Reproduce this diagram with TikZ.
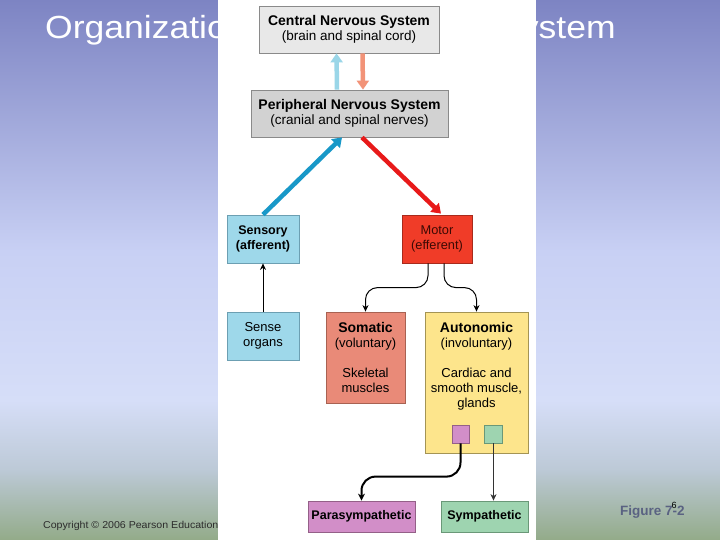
\documentclass[tikz,border=0pt]{standalone}
\usepackage{fontspec}
\setmainfont{Liberation Sans}
\newfontfamily\titlefont{Liberation Sans}[FakeStretch=1.11]
\newfontfamily\footfont{Liberation Sans}[FakeStretch=1.06]
\usetikzlibrary{arrows.meta,calc}
\definecolor{bgA}{HTML}{7D84C3}
\definecolor{bgB}{HTML}{C8D0F4}
\definecolor{bgC}{HTML}{D6DEF8}
\definecolor{bgD}{HTML}{BCC9D6}
\definecolor{bgE}{HTML}{93AB89}
\definecolor{cnsfill}{HTML}{E8E8E8}
\definecolor{pnsfill}{HTML}{D2D2D2}
\definecolor{boxline}{HTML}{8A8A8A}
\definecolor{sensfill}{HTML}{9ED8EA}
\definecolor{sensline}{HTML}{6C9FB2}
\definecolor{motfill}{HTML}{F03C28}
\definecolor{motline}{HTML}{A82A1C}
\definecolor{somfill}{HTML}{E98A78}
\definecolor{somline}{HTML}{A86252}
\definecolor{autfill}{HTML}{FDE58C}
\definecolor{autline}{HTML}{A49454}
\definecolor{parfill}{HTML}{D28EC8}
\definecolor{parline}{HTML}{946088}
\definecolor{symfill}{HTML}{9ED4B0}
\definecolor{symline}{HTML}{6A9878}
\definecolor{upblue}{HTML}{9AD6E8}
\definecolor{downsalmon}{HTML}{F29378}
\definecolor{bigblue}{HTML}{1898C8}
\definecolor{bigred}{HTML}{E81A1A}
\definecolor{footgray}{HTML}{2C2C2C}
\definecolor{figgray}{HTML}{5A6282}
\definecolor{motortext}{HTML}{3C0A04}
\begin{document}
\begin{tikzpicture}[x=1pt,y=-1pt,
  box/.style={rectangle, inner sep=0pt, align=center, line width=0.8pt, text=black},
  fatarrow/.style={line width=4.5pt, -{Triangle[length=9pt,width=12pt]}},
  conn/.style={line width=1pt, -{Stealth[length=6.5pt,width=6pt]}},
  big/.style={font=\fontsize{13.5}{14.8}\selectfont},
  small/.style={font=\fontsize{13}{15}\selectfont},
]
\useasboundingbox (0,0) rectangle (720,540);
% background
\shade[top color=bgA, bottom color=bgB] (0,0) rectangle (720,251);
\shade[top color=bgB, bottom color=bgC] (0,250) rectangle (720,401);
\shade[top color=bgC, bottom color=bgD] (0,400) rectangle (720,471);
\shade[top color=bgD, bottom color=bgE] (0,470) rectangle (720,540);
% slide texts
\node[anchor=base west, inner sep=0pt, text=white, font=\titlefont\fontsize{32}{38}\selectfont] (title) at (45,39) {Organization of the Nervous System};
\node[anchor=base west, inner sep=0pt, text=footgray, font=\footfont\fontsize{10}{12}\selectfont] (copy) at (43,528) {Copyright © 2006 Pearson Education};
\node[anchor=base west, inner sep=0pt, text=figgray, font=\bfseries\fontsize{13.5}{15}\selectfont] (fig) at (620,515) {Figure 7-2};
\node[inner sep=0pt, text=black, font=\fontsize{9}{10}\selectfont] (num) at (674,505) {6};
% white figure panel
\fill[white] (218,0) rectangle (536,540);
% boxes
\node[box, big, draw=boxline, fill=cnsfill, minimum width=180pt, minimum height=47pt] (cns) at (349,29.5)
  {\textbf{\fontsize{14}{14}\selectfont Central Nervous System}\\(brain and spinal cord)};
\node[box, big, draw=boxline, fill=pnsfill, minimum width=197pt, minimum height=47pt] (pns) at (349.5,113.5)
  {\textbf{\fontsize{14}{14}\selectfont Peripheral Nervous System}\\(cranial and spinal nerves)};
\node[box, draw=sensline, fill=sensfill, minimum width=72pt, minimum height=48pt, font=\bfseries\fontsize{12.5}{15}\selectfont] (sensory) at (263,239)
  {Sensory\\(afferent)};
\node[box, draw=motline, fill=motfill, minimum width=70pt, minimum height=48pt, text=motortext, font=\fontsize{12.8}{15}\selectfont] (motor) at (437,239)
  {Motor\\(efferent)};
\node[box, small, draw=sensline, fill=sensfill, minimum width=72pt, minimum height=48pt] (sense) at (263,336)
  {Sense\\organs};
\node[box, small, draw=somline, fill=somfill, minimum width=79pt, minimum height=91pt] (somatic) at (365.5,357.5)
  {\textbf{\fontsize{14}{15}\selectfont Somatic}\\(voluntary)\\[15pt]Skeletal\\muscles};
\node[box, draw=autline, fill=autfill, minimum width=103pt, minimum height=141pt] (autonomic) at (476.5,382.5) {};
\node[box, small] (autotext) at (476.5,366)
  {\textbf{\fontsize{14}{15}\selectfont Autonomic}\\(involuntary)\\[15pt]Cardiac and\\smooth muscle,\\glands};
\node[box, draw=parline, fill=parfill, minimum width=17pt, minimum height=18pt] (psq) at (460.5,434) {};
\node[box, draw=symline, fill=symfill, minimum width=18pt, minimum height=18pt] (ssq) at (493.5,434) {};
\node[box, draw=parline, fill=parfill, minimum width=107pt, minimum height=31pt, font=\bfseries\fontsize{12.5}{15}\selectfont] (para) at (361.5,516.5)
  {Parasympathetic};
\node[box, draw=symline, fill=symfill, minimum width=87pt, minimum height=31pt, font=\bfseries\fontsize{12.5}{15}\selectfont] (symp) at (484.5,516.5)
  {Sympathetic};
% connectors
\draw[fatarrow, upblue] ([xshift=-12.5pt]pns.north) -- ([xshift=-12.5pt]cns.south);
\draw[fatarrow, downsalmon] ([xshift=13.5pt]cns.south) -- ([xshift=13.5pt]pns.north);
\draw[fatarrow, bigblue] (sensory.north) -- ([xshift=-7.5pt]pns.south);
\draw[fatarrow, bigred] ([xshift=12.5pt]pns.south) -- ([xshift=4pt,yshift=1pt]motor.north);
\draw[conn] (sense.north) -- (sensory.south);
\draw[conn, rounded corners=12pt] ([xshift=-9pt]motor.south) |- ([yshift=24pt]somatic.north) -- (somatic.north);
\draw[conn, rounded corners=12pt] ([xshift=7pt]motor.south) |- ([yshift=24pt]autonomic.north) -- (autonomic.north);
\draw[line width=2pt, rounded corners=14pt, -{Stealth[length=7pt,width=7pt]}] (psq.south) |- ([yshift=24pt]para.north) -- (para.north);
\draw[line width=0.7pt, draw=black!80, -{Stealth[length=6.5pt,width=6pt]}] (ssq.south) -- (ssq.south |- symp.north);
\end{tikzpicture}
\end{document}
